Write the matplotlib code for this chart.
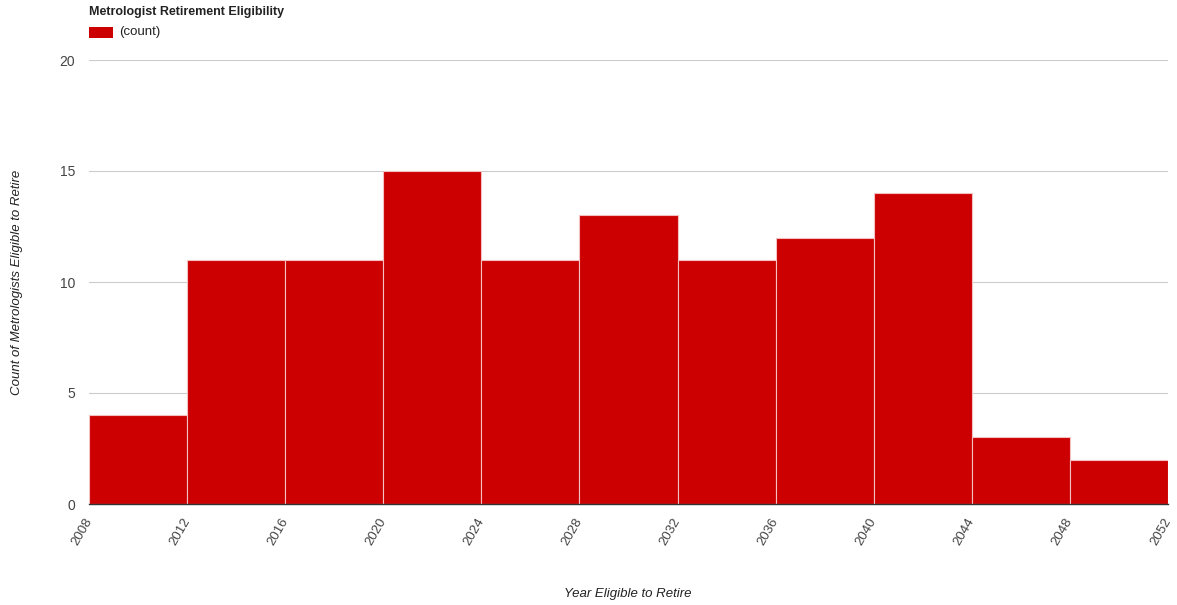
import matplotlib
matplotlib.use("Agg")
import matplotlib.pyplot as plt
from matplotlib.patches import Rectangle

bin_edges = [2008, 2012, 2016, 2020, 2024, 2028, 2032, 2036, 2040, 2044, 2048, 2052]
counts = [4, 11, 11, 15, 11, 13, 11, 12, 14, 3, 2]
y_ticks = [0, 5, 10, 15, 20]
title = "Metrologist Retirement Eligibility"
series_name = "(count)"
x_label = "Year Eligible to Retire"
y_label = "Count of Metrologists Eligible to Retire"

plt.rcParams['font.family'] = ['Liberation Sans', 'DejaVu Sans']

W, H = 1177, 605
fig = plt.figure(figsize=(W/100, H/100), dpi=100)
ax = fig.add_axes([89/W, 1-504/H, (1168-89)/W, (504-60)/H])

red = '#cc0000'
widths = [bin_edges[i+1]-bin_edges[i] for i in range(len(counts))]
ax.bar(bin_edges[:-1], counts, width=widths, align='edge', color=red,
       edgecolor='#f2c0c0', linewidth=0.8, zorder=2)

ax.set_xlim(bin_edges[0], bin_edges[-1])
ax.set_ylim(0, 20)
ax.set_yticks(y_ticks)
ax.set_xticks(bin_edges)
ax.set_xticklabels([str(e) for e in bin_edges], rotation=60, ha='right', va='center',
                   rotation_mode='anchor', fontsize=9.5, color='#444444')
ax.set_yticklabels([str(t) for t in y_ticks], fontsize=10, color='#444444')
ax.tick_params(axis='both', length=0)
ax.tick_params(axis='x', pad=11)
ax.tick_params(axis='y', pad=10)
ax.grid(axis='y', color='#cccccc', linewidth=0.8, zorder=0)
ax.set_axisbelow(True)
for s in ['top', 'right', 'left']:
    ax.spines[s].set_visible(False)
ax.spines['bottom'].set_color('#333333')
ax.spines['bottom'].set_linewidth(1.0)
ax.spines['bottom'].set_zorder(3)

fig.text(628/W, 1-594/H, x_label, ha='center', va='center', fontsize=9.5,
         style='italic', color='#222222')
fig.text(17/W, 1-282/H, y_label, ha='center', va='center', rotation=90,
         fontsize=9.5, style='italic', color='#222222')

fig.text(89/W, 1-12/H, title, ha='left', va='center', fontsize=9,
         weight='bold', color='#222222')
fig.patches.append(Rectangle((89/W, 1-38/H), 24/W, 11/H, transform=fig.transFigure,
                             facecolor=red, edgecolor='none'))
fig.text(119/W, 1-32.5/H, series_name, ha='left', va='center', fontsize=9.5,
         color='#222222')

fig.savefig('out.png', dpi=100)
